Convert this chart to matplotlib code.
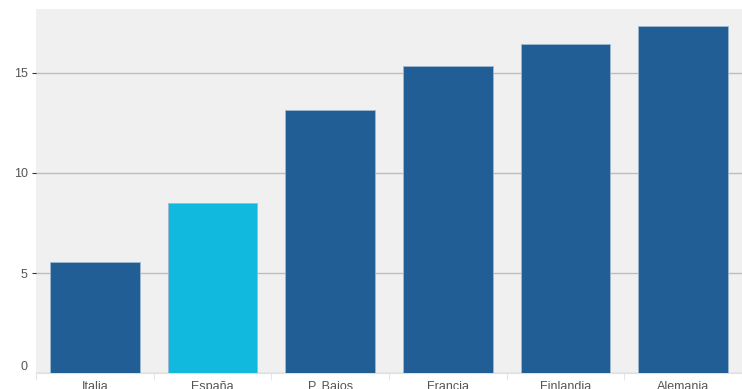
import matplotlib
matplotlib.use('Agg')
import matplotlib.pyplot as plt

paises = ['Italia', 'España', 'P. Bajos', 'Francia', 'Finlandia', 'Alemania']
valores = [5.55, 8.5, 13.15, 15.35, 16.45, 17.35]
colores = ['#215e96', '#12b9df', '#215e96', '#215e96', '#215e96', '#215e96']

plt.rcParams['font.family'] = ['Liberation Sans', 'DejaVu Sans']

fig = plt.figure(figsize=(7.42, 3.89), dpi=100)
ax = fig.add_axes([0.0485, 0.0411, 0.9515, 0.9358])
ax.set_facecolor('#f0f0f0')

x = range(len(paises))
ax.bar(x, valores, width=0.76, color=colores, edgecolor='#9fb8d0', linewidth=0.6, zorder=3)

ax.set_xlim(-0.5, len(paises) - 0.5)
ax.set_ylim(0, 18.2)
ax.set_yticks([0, 5, 10, 15])
ax.yaxis.grid(True, color='#bdbdbd', linewidth=1, zorder=1)

for s in ['top', 'right', 'left']:
    ax.spines[s].set_visible(False)
ax.spines['bottom'].set_color('#e0e0e0')

ax.tick_params(axis='y', length=3, color='#333333', labelsize=9, labelcolor='#555555', pad=3)
ax.yaxis.get_major_ticks()[0].tick1line.set_visible(False)
ax.set_xticks([i + 0.5 for i in range(-1, len(paises))])
ax.set_xticklabels([])
ax.tick_params(axis='x', length=5, color='#e6e6e6')
ax.set_xticks(list(x), minor=True)
ax.set_xticklabels(paises, minor=True)
ax.tick_params(axis='x', which='minor', length=0, labelsize=9, labelcolor='#555555', pad=6)

ax.get_yticklabels()[0].set_verticalalignment('bottom')

fig.savefig('out.png', dpi=100)
